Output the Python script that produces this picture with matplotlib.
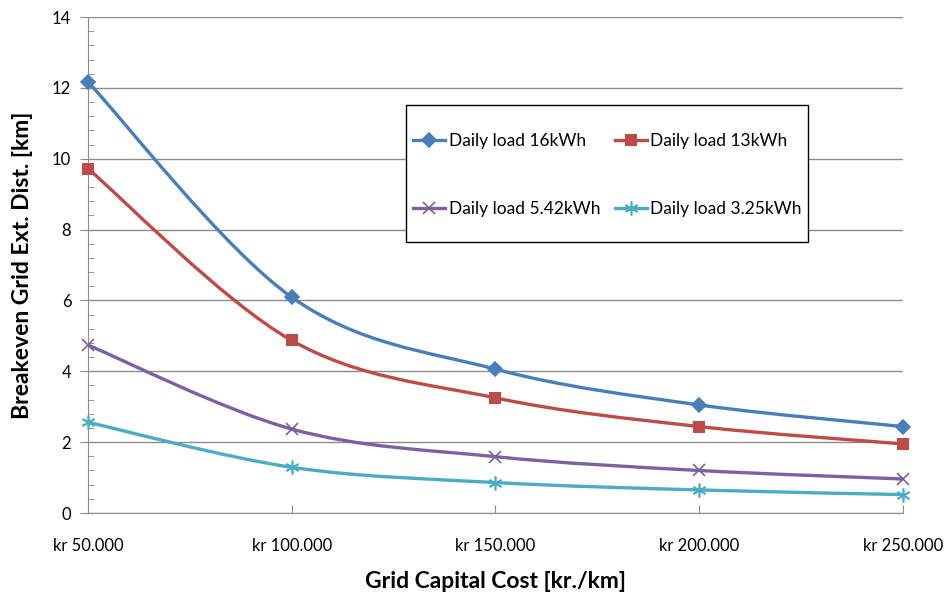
import matplotlib
matplotlib.use("Agg")
import matplotlib.pyplot as plt
from matplotlib.path import Path
from matplotlib.patches import PathPatch, Rectangle
from matplotlib.lines import Line2D
from matplotlib.ticker import MultipleLocator, FuncFormatter

plt.rcParams['font.family'] = ['Lato', 'DejaVu Sans']

cost = [50000, 100000, 150000, 200000, 250000]
load_16 = [12.17, 6.09, 4.06, 3.05, 2.44]
load_13 = [9.72, 4.87, 3.25, 2.44, 1.95]
load_542 = [4.74, 2.37, 1.59, 1.20, 0.96]
load_325 = [2.56, 1.29, 0.86, 0.65, 0.52]

labels = ["Daily load 16kWh", "Daily load 13kWh", "Daily load 5.42kWh", "Daily load 3.25kWh"]
colors = ["#4A7EBB", "#BE4B48", "#7D60A0", "#4AACC5"]
markers = ["D", "s", "x", (6, 2, 0)]
msizes = [7, 9, 8, 10]


def smooth_path(xs, ys):
    # cubic bezier through the points, excel-style smoothing
    pts = list(zip(xs, ys))
    verts = [pts[0]]
    codes = [Path.MOVETO]
    n = len(pts)
    for i in range(n - 1):
        p0 = pts[i - 1] if i > 0 else pts[i]
        p1 = pts[i]
        p2 = pts[i + 1]
        p3 = pts[i + 2] if i + 2 < n else pts[i + 1]
        c1 = (p1[0] + (p2[0] - p0[0]) / 6, p1[1] + (p2[1] - p0[1]) / 6)
        c2 = (p2[0] - (p3[0] - p1[0]) / 6, p2[1] - (p3[1] - p1[1]) / 6)
        verts += [c1, c2, p2]
        codes += [Path.CURVE4] * 3
    return Path(verts, codes)


fig = plt.figure(figsize=(9.49, 5.97), dpi=100)
ax = fig.add_axes([0.0927, 0.1407, 0.8588, 0.8308])

series = [load_16, load_13, load_542, load_325]
handles = []
for ys, lab, c, m, ms in zip(series, labels, colors, markers, msizes):
    ax.add_patch(PathPatch(smooth_path(cost, ys), facecolor="none", edgecolor=c,
                           lw=2.4, zorder=3, capstyle="round"))
    ax.plot(cost, ys, ls="none", marker=m, ms=ms, color=c, mew=1.2 if m != "s" else 0,
            clip_on=False, zorder=4)
    handles.append(Line2D([], [], color=c, lw=2.4, marker=m, ms=ms,
                          mew=1.2 if m != "s" else 0))

ax.set_xlim(50000, 250000)
ax.set_ylim(0, 14)
ax.set_xticks(cost)
ax.xaxis.set_major_formatter(FuncFormatter(lambda v, p: "kr " + f"{int(v):,}".replace(",", ".")))
ax.yaxis.set_major_locator(MultipleLocator(2))
ax.yaxis.set_minor_locator(MultipleLocator(0.4))
ax.grid(axis="y", which="major", color="#8c8c8c", lw=1)
ax.set_axisbelow(True)

for s in ["top", "right"]:
    ax.spines[s].set_visible(False)
for s in ["left", "bottom"]:
    ax.spines[s].set_color("#8c8c8c")

ax.tick_params(axis="y", which="major", direction="out", length=6, color="#8c8c8c",
               labelsize=12, pad=6)
ax.tick_params(axis="y", which="minor", direction="in", length=4, color="#8c8c8c")
ax.tick_params(axis="x", which="major", direction="in", length=6, color="#8c8c8c",
               labelsize=12, pad=18)

ax.set_xlabel("Grid Capital Cost [kr./km]", fontsize=16.5, fontweight="bold", labelpad=12)
ax.set_ylabel("Breakeven Grid Ext. Dist. [km]", fontsize=16.5, fontweight="bold", labelpad=14)

# legend frame drawn separately so the box can be taller than the entries
ax.add_patch(Rectangle((0.4278, 0.5946), 0.4236, 0.2295, transform=fig.transFigure,
                       facecolor="white", edgecolor="black", lw=1, clip_on=False, zorder=5))

# two columns, filled row by row
order = [0, 2, 1, 3]
leg = ax.legend([handles[i] for i in order], [labels[i] for i in order], ncol=2,
                loc="upper left", bbox_to_anchor=(0.4352, 0.777),
                bbox_transform=fig.transFigure, fontsize=12.5, frameon=False,
                handlelength=1.85, handletextpad=0.2, labelspacing=3.0,
                columnspacing=0.85, borderpad=0, borderaxespad=0)
leg.set_zorder(6)

fig.savefig("out.png", dpi=100)
